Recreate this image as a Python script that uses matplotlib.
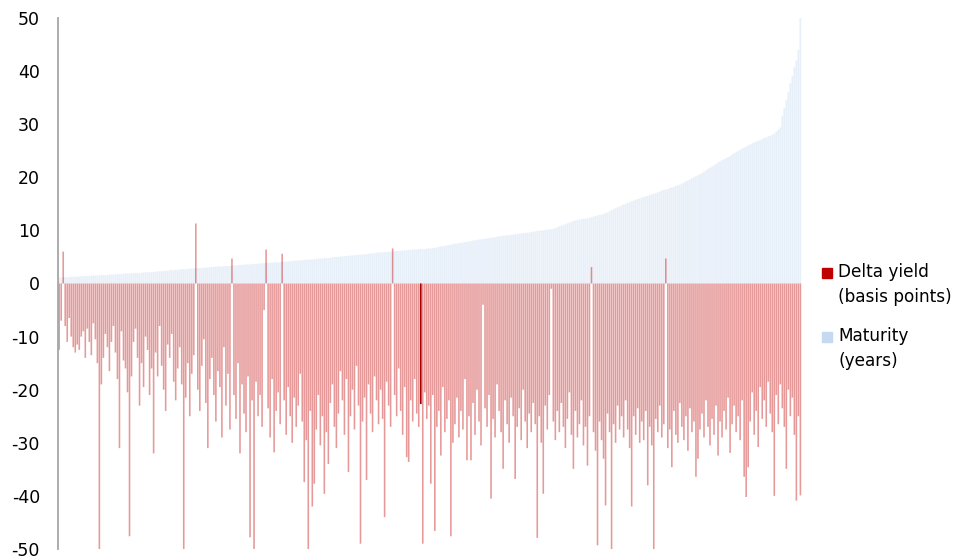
import numpy as np
import matplotlib
matplotlib.use("Agg")
import matplotlib.pyplot as plt
from matplotlib.patches import Rectangle

plt.rcParams['font.family'] = ['DejaVu Sans']
plt.rcParams['axes.unicode_minus'] = False

maturity = [
    1.1,1.1,1.2,1.2,1.2,1.2,1.3,1.3,1.3,1.3,
    1.3,1.4,1.4,1.4,1.4,1.4,1.5,1.5,1.5,1.5,
    1.5,1.6,1.6,1.6,1.6,1.7,1.7,1.7,1.7,1.8,
    1.8,1.8,1.8,1.9,1.9,1.9,1.9,2.0,2.0,2.0,
    2.0,2.0,2.1,2.1,2.1,2.1,2.2,2.2,2.2,2.3,
    2.3,2.3,2.4,2.4,2.4,2.5,2.5,2.5,2.6,2.6,
    2.6,2.7,2.7,2.7,2.8,2.8,2.8,2.8,2.9,2.9,
    2.9,2.9,3.0,3.0,3.0,3.1,3.1,3.1,3.2,3.2,
    3.2,3.2,3.3,3.3,3.3,3.3,3.4,3.4,3.4,3.5,
    3.5,3.5,3.5,3.6,3.6,3.6,3.7,3.7,3.7,3.7,
    3.8,3.8,3.8,3.9,3.9,3.9,3.9,4.0,4.0,4.0,
    4.0,4.1,4.1,4.1,4.2,4.2,4.2,4.3,4.3,4.3,
    4.4,4.4,4.4,4.5,4.5,4.5,4.5,4.6,4.6,4.7,
    4.7,4.7,4.8,4.8,4.8,4.9,4.9,5.0,5.0,5.0,
    5.1,5.1,5.1,5.2,5.2,5.3,5.3,5.3,5.4,5.4,
    5.4,5.5,5.5,5.5,5.6,5.6,5.7,5.7,5.8,5.8,
    5.8,5.9,5.9,5.9,6.0,6.0,6.0,6.1,6.1,6.1,
    6.2,6.2,6.2,6.3,6.3,6.3,6.4,6.4,6.4,6.5,
    6.5,6.5,6.5,6.6,6.6,6.6,6.7,6.7,6.8,6.9,
    7.0,7.0,7.1,7.2,7.2,7.3,7.4,7.5,7.5,7.6,
    7.7,7.7,7.8,7.9,7.9,8.0,8.1,8.1,8.2,8.3,
    8.3,8.4,8.4,8.5,8.6,8.6,8.7,8.7,8.8,8.9,
    8.9,9.0,9.0,9.1,9.1,9.2,9.2,9.3,9.3,9.4,
    9.4,9.5,9.5,9.6,9.6,9.7,9.8,9.8,9.9,9.9,
    10.0,10.0,10.1,10.1,10.2,10.2,10.3,10.4,10.6,10.8,
    10.9,11.0,11.2,11.3,11.5,11.6,11.8,11.9,12.0,12.0,
    12.1,12.2,12.2,12.3,12.4,12.5,12.6,12.7,12.8,12.9,
    13.0,13.1,13.3,13.4,13.6,13.8,14.0,14.2,14.4,14.5,
    14.7,14.9,15.0,15.2,15.3,15.5,15.6,15.8,15.9,16.0,
    16.2,16.3,16.4,16.5,16.7,16.8,16.9,17.0,17.2,17.3,
    17.5,17.6,17.7,17.8,18.0,18.1,18.2,18.4,18.5,18.6,
    18.8,19.0,19.2,19.4,19.6,19.8,20.0,20.2,20.4,20.6,
    20.8,21.1,21.3,21.6,21.8,22.0,22.3,22.5,22.8,23.0,
    23.2,23.4,23.6,23.8,24.0,24.3,24.5,24.7,25.0,25.2,
    25.4,25.6,25.8,26.0,26.2,26.4,26.6,26.7,26.9,27.0,
    27.2,27.4,27.5,27.7,27.8,28.0,28.2,28.6,29.0,29.4,
    31.6,33.0,34.5,36.0,37.7,39.0,40.7,42.0,44.0,50.0,
]

delta_yield = [
    -12.5,-7.0,6.0,-8.0,-11.0,-6.5,-10.0,-12.0,-13.0,-11.5,
    -12.5,-10.0,-9.0,-14.0,-8.5,-11.0,-13.5,-7.5,-10.5,-15.0,
    -50.0,-19.0,-14.0,-9.5,-12.0,-16.5,-11.0,-8.0,-13.0,-18.0,
    -31.0,-9.0,-14.5,-16.0,-20.5,-47.6,-17.5,-11.0,-8.5,-14.0,
    -23.0,-15.0,-19.5,-10.0,-12.5,-21.0,-16.0,-32.0,-13.0,-17.5,
    -8.0,-15.5,-20.0,-24.0,-11.5,-14.0,-9.5,-18.5,-22.0,-16.0,
    -12.0,-19.0,-50.0,-21.5,-15.0,-25.0,-17.0,-13.5,11.3,-20.0,
    -24.0,-15.5,-10.5,-22.5,-31.0,-18.0,-14.0,-21.0,-26.0,-16.5,
    -19.5,-29.0,-12.0,-23.0,-17.0,-27.5,4.7,-21.0,-25.5,-15.0,
    -32.0,-19.0,-24.5,-28.0,-17.5,-47.8,-22.0,-50.0,-18.5,-25.0,
    -21.0,-27.0,-5.0,6.4,-23.5,-29.0,-18.0,-31.8,-24.0,-20.5,
    -26.5,5.6,-22.0,-28.5,-19.5,-25.0,-30.0,-21.5,-27.0,-23.0,
    -17.0,-26.0,-37.4,-29.5,-50.0,-24.0,-42.0,-37.7,-27.5,-21.0,
    -30.5,-25.0,-39.6,-28.0,-34.0,-22.5,-19.0,-27.0,-31.0,-24.5,
    -16.5,-22.0,-28.5,-18.0,-35.5,-25.0,-20.0,-27.5,-15.5,-23.0,
    -49.0,-26.0,-21.5,-37.0,-19.0,-24.5,-28.0,-17.5,-22.0,-26.5,
    -20.0,-25.5,-44.0,-18.5,-23.0,-27.0,6.6,-21.0,-25.0,-16.0,
    -24.0,-28.5,-19.5,-32.7,-33.6,-22.0,-26.0,-18.0,-24.5,-27.0,
    -22.7,-49.0,-20.5,-25.5,-23.0,-37.7,-21.0,-46.6,-27.0,-24.0,
    -32.4,-19.5,-28.0,-25.5,-22.0,-47.6,-30.0,-26.5,-21.5,-29.0,
    -24.0,-27.5,-18.0,-33.3,-25.0,-33.3,-22.5,-28.5,-20.0,-26.0,
    -30.5,-4.0,-23.5,-27.0,-21.0,-40.5,-25.5,-29.0,-19.0,-24.0,
    -28.0,-34.9,-22.0,-26.5,-30.0,-21.5,-25.0,-36.8,-27.0,-23.5,
    -29.5,-20.0,-26.0,-31.0,-24.5,-28.0,-22.5,-26.5,-47.9,-25.0,
    -30.0,-39.6,-23.0,-27.5,-21.0,-1.0,-26.0,-29.5,-24.0,-28.0,
    -22.5,-27.0,-31.0,-25.5,-20.5,-28.5,-34.9,-24.0,-29.0,-26.5,
    -22.0,-30.5,-27.0,-34.3,-25.0,3.1,-28.0,-31.5,-49.3,-26.0,
    -29.5,-33.0,-41.8,-24.5,-28.0,-50.0,-26.5,-30.0,-23.0,-27.5,
    -25.0,-29.0,-22.0,-27.5,-31.0,-42.0,-25.0,-28.5,-23.5,-30.0,
    -26.0,-29.5,-24.0,-38.0,-27.0,-30.5,-50.0,-25.5,-28.0,-23.0,
    -29.0,-26.5,4.7,-31.0,-27.5,-34.6,-24.0,-28.5,-30.0,-22.5,
    -27.0,-29.5,-25.0,-31.5,-23.5,-28.0,-26.0,-36.4,-33.0,-27.5,
    -24.5,-29.0,-22.0,-27.0,-30.5,-25.5,-28.5,-23.0,-32.4,-26.0,
    -29.0,-24.0,-27.5,-21.5,-31.9,-26.5,-23.0,-28.0,-25.0,-29.5,
    -22.0,-36.4,-40.2,-34.6,-26.0,-20.5,-28.5,-24.0,-30.8,-19.5,
    -25.5,-22.0,-27.0,-18.5,-24.5,-28.0,-40.0,-21.0,-26.5,-19.0,
    -23.5,-27.0,-34.9,-20.0,-25.0,-21.5,-28.5,-40.9,-25.0,-39.9,
]

highlight_index = 180
yticks = [50, 40, 30, 20, 10, 0, -10, -20, -30, -40, -50]
ytick_labels = ["50", "40", "30", "20", "10", "0", "-10", "-20", "-30", "-40", "-50"]

N = len(delta_yield)
x = np.arange(N)

fig = plt.figure(figsize=(9.56, 5.6), dpi=100)
ax = fig.add_axes([58/956, 11/560, (802-58)/956, 531/560])

ax.bar(x, maturity, width=0.85, color='#c6d9f1', alpha=0.42,
       linewidth=0, snap=False)
ax.bar(x, delta_yield, width=0.8, color='#c00000', alpha=0.4,
       linewidth=0, snap=False)
ax.bar(x[highlight_index], delta_yield[highlight_index], width=0.8,
       color='#a80000', linewidth=0, snap=False)

ax.set_ylim(-50, 50)
ax.set_xlim(-0.6, N - 0.2)
ax.set_yticks(yticks)
ax.set_yticklabels(ytick_labels)
ax.set_xticks([])
ax.tick_params(axis='y', length=0, pad=13, labelsize=12.5, colors='#000000')
for s in ['top', 'right', 'bottom']:
    ax.spines[s].set_visible(False)
ax.spines['left'].set_color('#a6a6a6')
ax.spines['left'].set_linewidth(1.3)

W, H = 956, 560
def fx(px):
    return px / W
def fy(py):
    return 1 - py / H

fig.patches.append(Rectangle((fx(822), fy(278)), 10/W, 10/H,
                             transform=fig.transFigure, color='#c00000'))
fig.patches.append(Rectangle((fx(822), fy(342)), 10/W, 10/H,
                             transform=fig.transFigure, color='#c6d9f1'))
fs = 12.2
fig.text(fx(838), fy(272), "Delta yield", fontsize=fs, va='center', ha='left')
fig.text(fx(838), fy(297), "(basis points)", fontsize=fs, va='center', ha='left')
fig.text(fx(838), fy(336), "Maturity", fontsize=fs, va='center', ha='left')
fig.text(fx(838), fy(361), "(years)", fontsize=fs, va='center', ha='left')

fig.savefig("out.png", dpi=100)
